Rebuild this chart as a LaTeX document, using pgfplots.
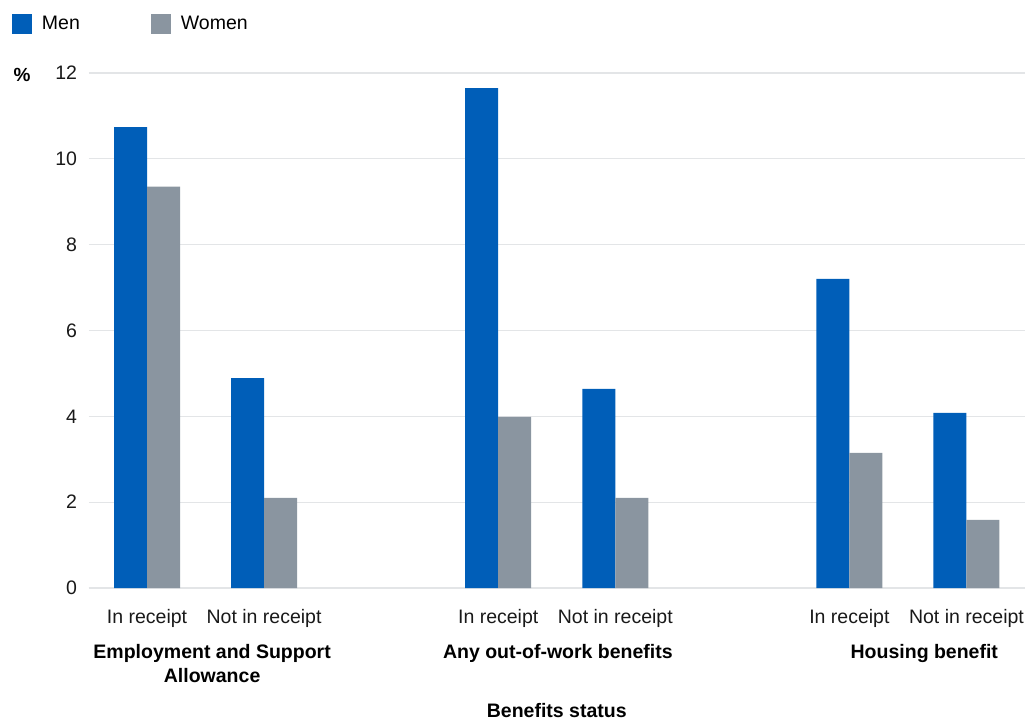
\documentclass[border=0pt]{standalone}
\usepackage{pgfplots}
\pgfplotsset{compat=1.18}
\usepackage{fontspec}
\setmainfont{Liberation Sans}
\definecolor{menblue}{HTML}{005EB8}
\definecolor{womengray}{HTML}{8A95A0}
\definecolor{gridgray}{HTML}{E3E5E7}
\begin{document}
\begin{tikzpicture}
\useasboundingbox (0,0) rectangle (1032bp,720bp);
\begin{axis}[
  at={(88.5bp,132bp)}, anchor=south west,
  scale only axis, width=936.5bp, height=515bp,
  ybar=0pt, bar width=33bp,
  xmin=-0.5, xmax=7.5, ymin=0, ymax=12,
  xtick={0,1,3,4,6,7},
  xticklabels={In receipt,Not in receipt,In receipt,Not in receipt,In receipt,Not in receipt},
  ytick={0,2,4,6,8,10,12},
  ymajorgrids, grid style={gridgray, line width=1.2bp},
  axis x line=bottom, axis y line=left,
  y axis line style={draw=none},
  x axis line style={gridgray, line width=1.5bp, -},
  major tick length=0pt,
  /pgf/number format/assume math mode=true,
  tick label style={font=\fontsize{19.5bp}{22bp}\selectfont, text=black!90},
  xticklabel style={yshift=-18bp},
  yticklabel style={xshift=-8bp},
  legend columns=2,
  legend style={at={(rel axis cs:-0.0817,1.1146)}, anchor=north west, draw=none, fill=none,
    font=\fontsize{19.5bp}{22bp}\selectfont, inner sep=0pt, outer sep=0pt,
    /tikz/every odd column/.append style={column sep=8bp},
    /tikz/every even column/.append style={column sep=69bp}},
  legend image code/.code={\fill[#1] (0bp,-10bp) rectangle (20bp,10bp);},
  clip=false,
]
\addplot[fill=menblue, draw=none] coordinates {(0,10.74) (1,4.89) (3,11.65) (4,4.64) (6,7.20) (7,4.08)};
\addlegendentry{Men}
\addplot[fill=womengray, draw=none] coordinates {(0,9.35) (1,2.10) (3,3.99) (4,2.10) (6,3.15) (7,1.59)};
\addlegendentry{Women}
\node[font=\bfseries\fontsize{19.5bp}{24bp}\selectfont, align=center, anchor=north] at (axis cs:0.556,0) [yshift=-53bp] {Employment and Support\\Allowance};
\node[font=\bfseries\fontsize{19.5bp}{24bp}\selectfont, anchor=north] at (axis cs:3.51,0) [yshift=-53bp] {Any out-of-work benefits};
\node[font=\bfseries\fontsize{19.5bp}{24bp}\selectfont, anchor=north] at (axis cs:6.64,0) [yshift=-53bp] {Housing benefit};
\node[font=\bfseries\fontsize{19.5bp}{24bp}\selectfont, anchor=north] at (axis cs:3.5,0) [yshift=-112bp] {Benefits status};
\node[font=\bfseries\fontsize{19bp}{22bp}\selectfont] at (rel axis cs:-0.071,1) [yshift=-2bp] {\%};
\end{axis}
\end{tikzpicture}
\end{document}
